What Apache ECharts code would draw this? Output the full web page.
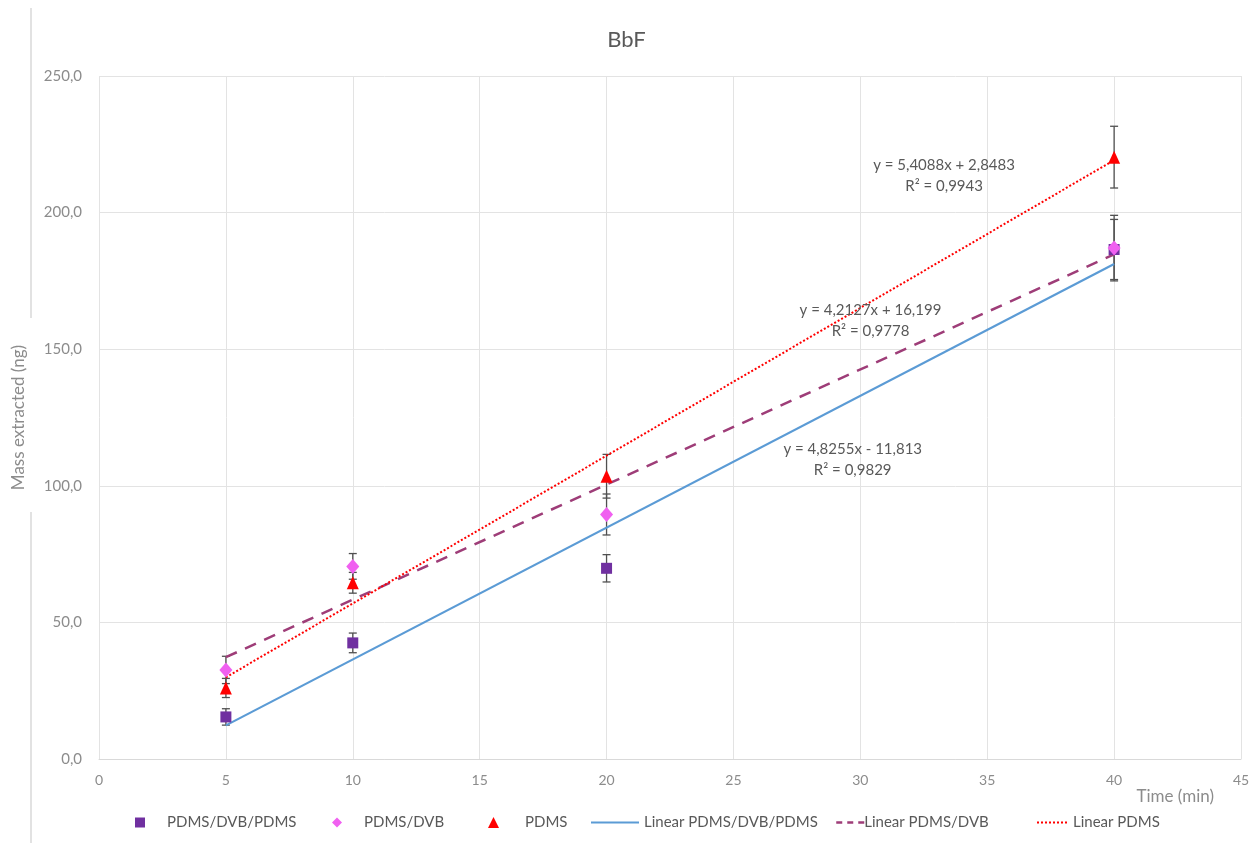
<!DOCTYPE html>
<html>
<head>
<meta charset="utf-8">
<style>
  html, body { margin: 0; padding: 0; background: #ffffff; }
  #chart { width: 1253px; height: 843px; }
</style>
<script src="https://cdn.jsdelivr.net/npm/echarts@6/dist/echarts.min.js"></script>
</head>
<body>
<div id="chart"></div>
<script>
// Extraction time (min)
const times = [5, 10, 20, 40];

// Mean mass extracted (ng) per fibre coating
const pdmsDvbPdms = [15.4, 42.5, 69.8, 186.5];
const pdmsDvb     = [32.6, 70.5, 89.5, 187.0];
const pdms        = [26.0, 64.5, 103.5, 220.3];

// Standard deviations (ng)
const pdmsDvbPdmsErr = [3.0, 3.6, 5.0, 11.0];
const pdmsDvbErr     = [5.0, 4.7, 7.5, 12.0];
const pdmsErr        = [3.5, 3.8, 8.0, 11.3];

// Linear fits: [slope, intercept, R²]
const fitPdmsDvbPdms = [4.8255, -11.813, 0.9829];
const fitPdmsDvb     = [4.2127, 16.199, 0.9778];
const fitPdms        = [5.4088, 2.8483, 0.9943];

// Axis ticks
const xTicks = [0, 5, 10, 15, 20, 25, 30, 35, 40, 45];
const yTicks = [0, 50, 100, 150, 200, 250];

const FONT = 'Lato, "Open Sans", sans-serif';
const TXT = '#595959';
const LIGHT = '#8c8c8c';

const colors = {
  purple: '#7030a0',
  pink: '#f060f0',
  red: '#ff0000',
  blue: '#5b9bd5',
  plum: '#9e3d78'
};

const pts = vals => times.map((t, i) => [t, vals[i]]);
const errs = (vals, e) => times.map((t, i) => [t, vals[i] - e[i], vals[i] + e[i]]);
const fitLine = f => [times[0], times[times.length - 1]].map(t => [t, f[0] * t + f[1]]);

const fmtNum = (v, d) => v.toFixed(d).replace('.', ',');
const eqText = f => 'y = ' + fmtNum(f[0], 4) + 'x ' + (f[1] < 0 ? '- ' : '+ ') +
  String(Math.abs(f[1])).replace('.', ',') + '\nR² = ' + fmtNum(f[2], 4);

function errorBar(params, api) {
  const x = api.value(0);
  const lo = api.coord([x, api.value(1)]);
  const hi = api.coord([x, api.value(2)]);
  const w = 4;
  const style = { stroke: '#505050', lineWidth: 1.3 };
  return {
    type: 'group',
    children: [
      { type: 'line', shape: { x1: lo[0], y1: lo[1], x2: hi[0], y2: hi[1] }, style },
      { type: 'line', shape: { x1: lo[0] - w, y1: lo[1], x2: lo[0] + w, y2: lo[1] }, style },
      { type: 'line', shape: { x1: hi[0] - w, y1: hi[1], x2: hi[0] + w, y2: hi[1] }, style }
    ]
  };
}

const legendText = pad => ({ fontFamily: FONT, fontSize: 15, color: TXT, padding: [0, 0, 0, pad] });
const legendBase = { top: 810, itemGap: 0 };

const chart = echarts.init(document.getElementById('chart'), null, { renderer: 'canvas' });

const option = {
  backgroundColor: '#ffffff',
  animation: false,
  title: {
    text: 'BbF',
    left: 'center',
    top: 24,
    textStyle: { fontFamily: FONT, fontSize: 22, fontWeight: 'normal', color: TXT }
  },
  grid: { left: 99, right: 12, top: 76, bottom: 84, containLabel: false },
  legend: [
    Object.assign({}, legendBase, { left: 130, data: ['PDMS/DVB/PDMS'], itemWidth: 10, itemHeight: 10, textStyle: legendText(17) }),
    Object.assign({}, legendBase, { left: 327, data: ['PDMS/DVB'], itemWidth: 10, itemHeight: 10, textStyle: legendText(17) }),
    Object.assign({}, legendBase, { left: 483, data: ['PDMS'], itemWidth: 11, itemHeight: 11, textStyle: legendText(21) }),
    Object.assign({}, legendBase, { left: 585, data: ['Linear PDMS/DVB/PDMS'], itemWidth: 48, itemHeight: 12,
      itemStyle: { opacity: 0 }, textStyle: legendText(0) }),
    Object.assign({}, legendBase, { left: 830, data: ['Linear PDMS/DVB'], itemWidth: 28, itemHeight: 12,
      itemStyle: { opacity: 0 }, lineStyle: { type: [6, 5], width: 2.5 }, textStyle: legendText(-5) }),
    Object.assign({}, legendBase, { left: 1031, data: ['Linear PDMS'], itemWidth: 32, itemHeight: 12,
      itemStyle: { opacity: 0 }, textStyle: legendText(-1) })
  ],
  xAxis: {
    type: 'value',
    min: xTicks[0],
    max: xTicks[xTicks.length - 1],
    interval: 5,
    axisLine: { show: true, lineStyle: { color: '#d9d9d9' } },
    axisTick: { show: false },
    axisLabel: { fontFamily: FONT, fontSize: 14, color: LIGHT, margin: 14 },
    splitLine: { show: true, lineStyle: { color: '#e3e3e3', width: 1 } }
  },
  yAxis: {
    type: 'value',
    min: yTicks[0],
    max: yTicks[yTicks.length - 1],
    interval: 50,
    name: 'Mass extracted (ng)',
    nameLocation: 'middle',
    nameGap: 72,
    nameTextStyle: { fontFamily: FONT, fontSize: 17, color: LIGHT },
    axisLine: { show: false },
    axisTick: { show: false },
    axisLabel: {
      fontFamily: FONT, fontSize: 15, color: LIGHT, margin: 17,
      formatter: v => fmtNum(v, 1)
    },
    splitLine: { show: true, lineStyle: { color: '#e3e3e3', width: 1 } }
  },
  series: [
    { name: 'err1', type: 'custom', renderItem: errorBar, data: errs(pdmsDvbPdms, pdmsDvbPdmsErr), z: 2, silent: true },
    { name: 'err2', type: 'custom', renderItem: errorBar, data: errs(pdmsDvb, pdmsDvbErr), z: 2, silent: true },
    { name: 'err3', type: 'custom', renderItem: errorBar, data: errs(pdms, pdmsErr), z: 2, silent: true },
    {
      name: 'Linear PDMS/DVB/PDMS', type: 'line', data: fitLine(fitPdmsDvbPdms),
      symbol: 'none', lineStyle: { color: colors.blue, width: 2.2, type: 'solid' },
      itemStyle: { color: colors.blue }, z: 3
    },
    {
      name: 'Linear PDMS/DVB', type: 'line', data: fitLine(fitPdmsDvb),
      symbol: 'none', lineStyle: { color: colors.plum, width: 2.5, type: [12, 9] },
      itemStyle: { color: colors.plum }, z: 3
    },
    {
      name: 'Linear PDMS', type: 'line', data: fitLine(fitPdms),
      symbol: 'none', lineStyle: { color: colors.red, width: 2, type: [2, 2] },
      itemStyle: { color: colors.red }, z: 3
    },
    {
      name: 'PDMS/DVB/PDMS', type: 'scatter', data: pts(pdmsDvbPdms),
      symbol: 'rect', symbolSize: 11, itemStyle: { color: colors.purple, opacity: 1 }, z: 4
    },
    {
      name: 'PDMS/DVB', type: 'scatter', data: pts(pdmsDvb),
      symbol: 'diamond', symbolSize: [13, 15], itemStyle: { color: colors.pink, opacity: 1 }, z: 5
    },
    {
      name: 'PDMS', type: 'scatter', data: pts(pdms),
      symbol: 'triangle', symbolSize: [12, 13], itemStyle: { color: colors.red, opacity: 1 }, z: 5
    }
  ]
};

chart.setOption(option);

// Trendline equations, anchored in data coordinates
const eqLabels = [
  { fit: fitPdms, at: [33.3, 213.5] },
  { fit: fitPdmsDvb, at: [30.4, 160.5] },
  { fit: fitPdmsDvbPdms, at: [29.7, 109.5] }
];

const graphics = eqLabels.map(l => {
  const p = chart.convertToPixel({ gridIndex: 0 }, l.at);
  return {
    type: 'text', x: p[0], y: p[1],
    style: {
      text: eqText(l.fit), fill: TXT, font: '15px ' + FONT,
      align: 'center', verticalAlign: 'middle', lineHeight: 21
    },
    z: 10
  };
});

graphics.push({
  type: 'text', x: 1214, y: 797,
  style: { text: 'Time (min)', fill: LIGHT, font: '17px ' + FONT, align: 'right', verticalAlign: 'middle' }
});

// Chart-area frame at the left edge, broken where the axis title sits
graphics.push({ type: 'line', shape: { x1: 31, y1: 8, x2: 31, y2: 318 }, style: { stroke: '#d9d9d9', lineWidth: 1.5 } });
graphics.push({ type: 'line', shape: { x1: 31, y1: 512, x2: 31, y2: 843 }, style: { stroke: '#d9d9d9', lineWidth: 1.5 } });

chart.setOption({ graphic: graphics });
</script>
</body>
</html>
